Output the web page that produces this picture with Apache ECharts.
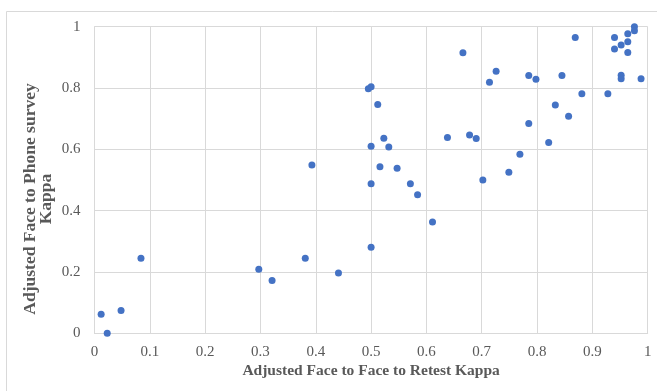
<!DOCTYPE html>
<html>
<head>
<meta charset="utf-8">
<script src="https://cdn.jsdelivr.net/npm/echarts@6/dist/echarts.min.js"></script>
<style>
html,body{margin:0;padding:0;background:#fff;}
#chart{width:657px;height:391px;}
</style>
</head>
<body>
<div id="chart"></div>
<script>
// Adjusted Face to Face to Retest Kappa (x)
const retestKappa = [0.012,0.023,0.048,0.084,0.297,0.321,0.381,0.393,0.441,0.500,0.500,0.500,0.495,0.500,0.512,0.516,0.523,0.532,0.547,0.571,0.584,0.611,0.638,0.666,0.678,0.690,0.702,0.714,0.726,0.749,0.769,0.785,0.785,0.798,0.821,0.833,0.845,0.857,0.869,0.881,0.928,0.940,0.940,0.952,0.952,0.952,0.964,0.964,0.964,0.976,0.976,0.988];
// Adjusted Face to Phone survey Kappa (y)
const phoneKappa = [0.062,0.000,0.074,0.245,0.209,0.172,0.245,0.549,0.197,0.281,0.488,0.610,0.798,0.804,0.746,0.543,0.636,0.608,0.538,0.488,0.452,0.363,0.639,0.915,0.647,0.635,0.500,0.819,0.855,0.525,0.584,0.841,0.684,0.829,0.622,0.745,0.841,0.708,0.965,0.781,0.781,0.965,0.927,0.940,0.842,0.830,0.977,0.951,0.916,1.000,0.987,0.830];
const xTickLabels = ['0','0.1','0.2','0.3','0.4','0.5','0.6','0.7','0.8','0.9','1'];
const yTickLabels = ['0','0.2','0.4','0.6','0.8','1'];
const xTitle = 'Adjusted Face to Face to Retest Kappa';
const yTitle = 'Adjusted Face to Phone survey\nKappa';

const points = retestKappa.map((x, i) => [x, phoneKappa[i]]);
const textColor = '#595959';
const font = 'Liberation Serif, Times New Roman, serif';

const chart = echarts.init(document.getElementById('chart'), null, {renderer: 'canvas'});
chart.setOption({
  animation: false,
  backgroundColor: '#fff',
  graphic: [{
    type: 'rect', silent: true, z: -10,
    shape: {x: 6.5, y: 11.5, width: 700, height: 420},
    style: {fill: 'none', stroke: '#d9d9d9', lineWidth: 1}
  }],
  grid: {left: 94.5, right: 9.3, top: 26.7, bottom: 57.7, containLabel: false},
  xAxis: {
    type: 'value', min: 0, max: 1, interval: 0.1,
    name: xTitle, nameLocation: 'middle', nameGap: 30, nameMoveOverlap: false,
    nameTextStyle: {fontFamily: font, fontWeight: 'bold', fontSize: 15.5, color: textColor},
    axisLine: {show: true, lineStyle: {color: '#d9d9d9', width: 1}},
    axisTick: {show: false},
    axisLabel: {
      margin: 11, fontFamily: font, fontSize: 15, color: textColor,
      formatter: v => xTickLabels[Math.round(v * 10)]
    },
    splitLine: {show: true, lineStyle: {color: '#d9d9d9', width: 1}}
  },
  yAxis: {
    type: 'value', min: 0, max: 1, interval: 0.2,
    name: yTitle, nameLocation: 'middle', nameGap: 40, nameRotate: 90, nameMoveOverlap: false,
    nameTextStyle: {fontFamily: font, fontWeight: 'bold', fontSize: 17.5, color: textColor, lineHeight: 16, padding: [0, 38, 0, 0]},
    axisLine: {show: true, lineStyle: {color: '#d9d9d9', width: 1}},
    axisTick: {show: false},
    axisLabel: {
      margin: 14, fontFamily: font, fontSize: 15, color: textColor,
      formatter: v => yTickLabels[Math.round(v * 5)]
    },
    splitLine: {show: true, lineStyle: {color: '#d9d9d9', width: 1}}
  },
  series: [{
    type: 'scatter',
    data: points,
    symbol: 'circle',
    symbolSize: 7,
    clip: false,
    itemStyle: {color: '#4472C4', opacity: 1}
  }]
});
</script>
</body>
</html>
